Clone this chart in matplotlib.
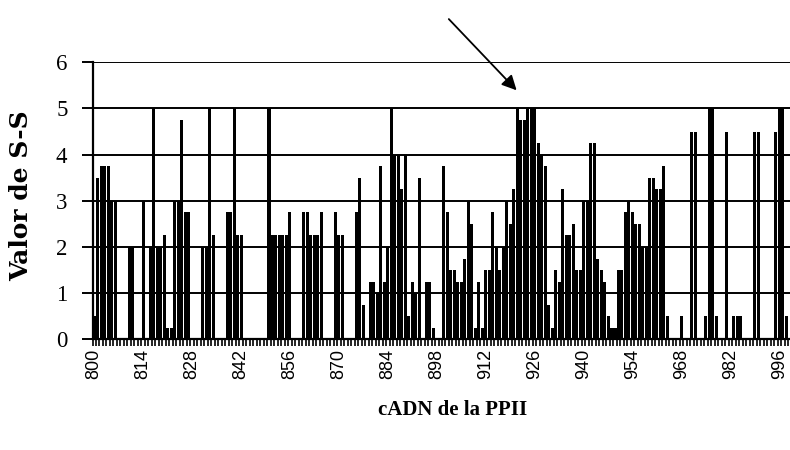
import matplotlib
matplotlib.use("Agg")
import matplotlib.pyplot as plt
from matplotlib.ticker import FixedLocator, NullFormatter
import numpy as np

# cDNA positions 800..999
positions = list(range(800, 1000))

values = [
    # 800-809
    0.5, 3.5, 3.75, 3.75, 3.75, 3, 3, 0, 0, 0,
    # 810-819
    2, 2, 0, 0, 3, 0, 2, 5, 2, 2,
    # 820-829
    2.25, 0.25, 0.25, 3, 3, 4.75, 2.75, 2.75, 0, 0,
    # 830-839
    0, 2, 2, 5, 2.25, 0, 0, 0, 2.75, 2.75,
    # 840-849
    5, 2.25, 2.25, 0, 0, 0, 0, 0, 0, 0,
    # 850-859
    5, 2.25, 2.25, 2.25, 2.25, 2.25, 2.75, 0, 0, 0,
    # 860-869
    2.75, 2.75, 2.25, 2.25, 2.25, 2.75, 0, 0, 0, 2.75,
    # 870-879
    2.25, 2.25, 0, 0, 0, 2.75, 3.5, 0.75, 0, 1.25,
    # 880-889
    1.25, 1.0, 3.75, 1.25, 2.0, 5, 4.0, 4.0, 3.25, 4.0,
    # 890-899
    0.5, 1.25, 1.0, 3.5, 0, 1.25, 1.25, 0.25, 0, 0,
    # 900-909
    3.75, 2.75, 1.5, 1.5, 1.25, 1.25, 1.75, 3.0, 2.5, 0.25,
    # 910-919
    1.25, 0.25, 1.5, 1.5, 2.75, 2.0, 1.5, 2.0, 3.0, 2.5,
    # 920-929
    3.25, 5, 4.75, 4.75, 5, 5, 5, 4.25, 4.0, 3.75,
    # 930-939
    0.75, 0.25, 1.5, 1.25, 3.25, 2.25, 2.25, 2.5, 1.5, 1.5,
    # 940-949
    3.0, 3.0, 4.25, 4.25, 1.75, 1.5, 1.25, 0.5, 0.25, 0.25,
    # 950-959
    1.5, 1.5, 2.75, 3.0, 2.75, 2.5, 2.5, 2.0, 2.0, 3.5,
    # 960-969
    3.5, 3.25, 3.25, 3.75, 0.5, 0, 0, 0, 0.5, 0,
    # 970-979
    0, 4.5, 4.5, 0, 0, 0.5, 5, 5, 0.5, 0,
    # 980-989
    0, 4.5, 0, 0.5, 0.5, 0.5, 0, 0, 0, 4.5,
    # 990-999
    4.5, 0, 0, 0, 0, 4.5, 5, 5, 0.5, 0,
]

tick_values = list(range(800, 1000, 14))
tick_labels = [str(v) for v in tick_values]
y_ticks = [0, 1, 2, 3, 4, 5, 6]

fig = plt.figure(figsize=(7.9, 4.5), dpi=100)
ax = fig.add_axes([92.5 / 790, 110.7 / 450, 699 / 790, 277 / 450])

ax.bar(positions, values, width=0.86, color="black", linewidth=0, zorder=3)

ax.set_xlim(positions[0] - 0.5, positions[-1] + 0.5)
ax.set_ylim(0, 6)

# horizontal grid lines
ax.set_yticks(y_ticks)
ax.yaxis.grid(True, color="black", linewidth=1.4, zorder=1)
ax.set_axisbelow(True)

for s in ["top", "right"]:
    ax.spines[s].set_visible(False)
ax.spines["left"].set_linewidth(1.6)
ax.spines["bottom"].set_linewidth(1.6)
ax.spines["left"].set_zorder(4)
ax.spines["bottom"].set_zorder(4)

ax.set_yticklabels([str(v) for v in y_ticks], family="Liberation Serif", fontsize=16.5)
ax.tick_params(axis="y", direction="out", length=8, width=1.4, pad=10)

# major x ticks carry labels only; minor ticks mark category boundaries
ax.xaxis.set_major_locator(FixedLocator(tick_values))
ax.set_xticklabels(tick_labels, rotation=90, family="Liberation Sans", fontsize=13)
ax.tick_params(axis="x", which="major", length=0, pad=7)
bounds = [p - 0.5 for p in positions] + [positions[-1] + 0.5]
ax.xaxis.set_minor_locator(FixedLocator(bounds))
ax.xaxis.set_minor_formatter(NullFormatter())
ax.tick_params(axis="x", which="minor", direction="out", length=5, width=1.2)

ax.set_ylabel("Valor de S-S", family="DejaVu Serif", fontweight="bold", fontsize=18)
ax.yaxis.set_label_coords((21 - 92.5) / 699, 0.52)
ax.yaxis.label.set_va("center")

ax.set_xlabel("cADN de la PPII", family="Liberation Serif", fontweight="bold", fontsize=15)
ax.xaxis.set_label_coords((453 - 92.5) / 699, (339.3 - 410) / 277)
ax.xaxis.label.set_va("center")

# arrow pointing to the main peak
ax.annotate("", xy=(921.4, 5.35), xytext=(900.9, 6.98),
            arrowprops=dict(arrowstyle="-|>", color="black", lw=1.3, mutation_scale=22),
            annotation_clip=False)

fig.savefig("out.png", dpi=100)
